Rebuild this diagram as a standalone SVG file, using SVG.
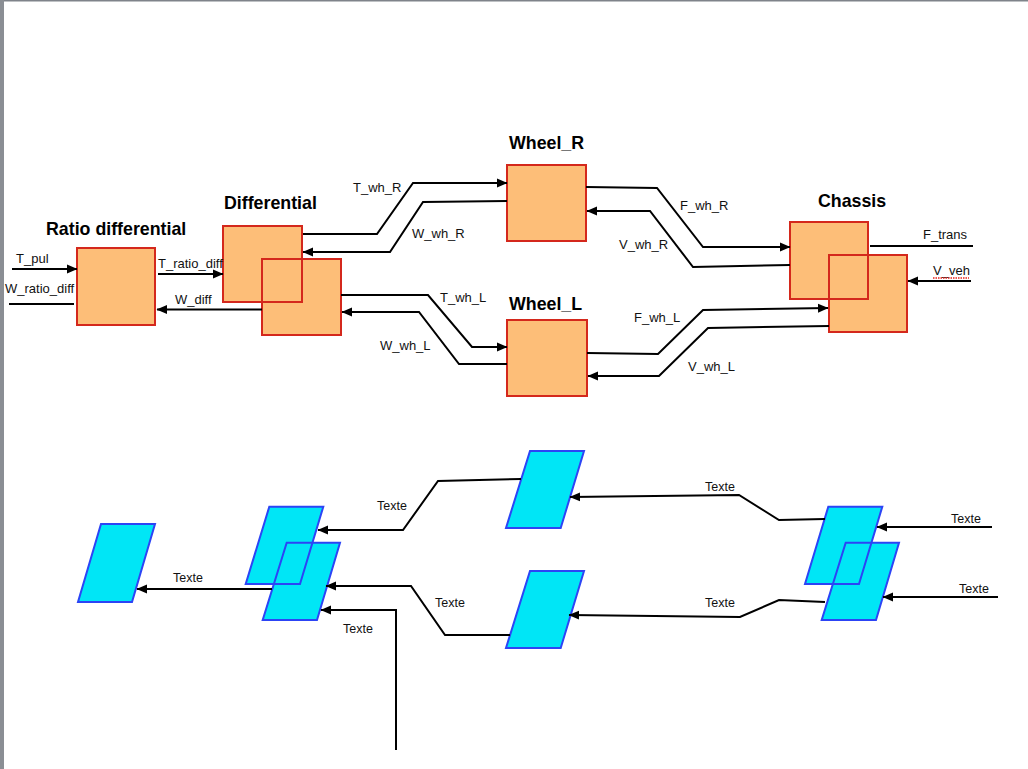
<svg xmlns="http://www.w3.org/2000/svg" width="1028" height="769" viewBox="0 0 1028 769">
<defs>
<style>
.blk{fill:#fdbe78;stroke:#d4281c;stroke-width:2}
.blkf{fill:#fdbe78;stroke:none}
.blks{fill:none;stroke:#d4281c;stroke-width:2}
.par{fill:#00e6f6;stroke:none}
.pars{fill:none;stroke:#2c44f5;stroke-width:2;stroke-linejoin:miter}
.title{font-family:"Liberation Sans",Arial,sans-serif;font-weight:bold;font-size:17.8px;fill:#000}
.lbl{font-family:"Liberation Sans",Arial,sans-serif;font-size:13px;fill:#111}
.lbl2{font-family:"Liberation Sans",Arial,sans-serif;font-size:12.5px;fill:#111}
.c{fill:none;stroke:#000;stroke-width:2;stroke-linejoin:miter}
.a{marker-end:url(#ah)}
</style>
<marker id="ah" markerUnits="userSpaceOnUse" markerWidth="11" markerHeight="10" viewBox="0 0 11 10" refX="10" refY="5" orient="auto">
<path d="M0,0.5 L10.5,5 L0,9.5 z" fill="#000"/>
</marker>
</defs>
<rect x="0" y="0" width="1028" height="769" fill="#fff"/>
<rect x="0" y="0" width="1028" height="1.5" fill="#7f838a"/>
<rect x="0" y="0" width="4" height="769" fill="#8a8e94"/>

<g id="ratio_differential">
<rect class="blk" x="77" y="248" width="78" height="77"/>
<text class="title" x="46" y="235">Ratio differential</text>
</g>
<g id="differential">
<rect class="blkf" x="223" y="226" width="79" height="76"/>
<rect class="blkf" x="262" y="259" width="79" height="76"/>
<rect class="blks" x="223" y="226" width="79" height="76"/>
<rect class="blks" x="262" y="259" width="79" height="76"/>
<text class="title" x="224" y="209">Differential</text>
</g>
<g id="wheel_r">
<rect class="blk" x="507" y="165" width="79" height="76"/>
<text class="title" x="509" y="149">Wheel_R</text>
</g>
<g id="wheel_l">
<rect class="blk" x="507" y="320" width="80" height="76"/>
<text class="title" x="509" y="310">Wheel_L</text>
</g>
<g id="chassis">
<rect class="blkf" x="790" y="222" width="78" height="77"/>
<rect class="blkf" x="829" y="255" width="78" height="77"/>
<rect class="blks" x="790" y="222" width="78" height="77"/>
<rect class="blks" x="829" y="255" width="78" height="77"/>
<text class="title" x="818" y="207">Chassis</text>
</g>

<g id="p1">
<polygon class="par" points="101,524 155,524 132,602 78,602"/>
<polygon class="pars" points="101,524 155,524 132,602 78,602"/>
</g>
<g id="p2p3">
<polygon class="par" points="269.3,506.7 323.3,506.7 300,584 245.7,584"/>
<polygon class="par" points="286.7,542.7 340,542.7 317,620 262.7,620"/>
<polygon class="pars" points="269.3,506.7 323.3,506.7 300,584 245.7,584"/>
<polygon class="pars" points="286.7,542.7 340,542.7 317,620 262.7,620"/>
</g>
<g id="p4">
<polygon class="par" points="530,451 584,451 560.7,528 506,528"/>
<polygon class="pars" points="530,451 584,451 560.7,528 506,528"/>
</g>
<g id="p5">
<polygon class="par" points="530,571 584,571 560.7,648 506,648"/>
<polygon class="pars" points="530,571 584,571 560.7,648 506,648"/>
</g>
<g id="p6p7">
<polygon class="par" points="828.3,506.7 882.3,506.7 859,584 805,584"/>
<polygon class="par" points="845.7,542.7 899,542.7 876,620 821.7,620"/>
<polygon class="pars" points="828.3,506.7 882.3,506.7 859,584 805,584"/>
<polygon class="pars" points="845.7,542.7 899,542.7 876,620 821.7,620"/>
</g>

<g id="connectors">
<path class="c a" d="M12,269 L77,269"/>
<path class="c" d="M9,304 L74,304"/>
<path class="c a" d="M158,274 L223,274"/>
<path class="c a" d="M262,309.5 L157,309.5"/>
<path class="c a" d="M303,234 L377,234 L413,183 L507,183"/>
<path class="c a" d="M507,201 L423,202 L390,252 L303,252"/>
<path class="c a" d="M341,295 L428,295 L472,347 L507,347"/>
<path class="c a" d="M507,364 L459,364 L419,312 L342,312"/>
<path class="c a" d="M586,187 L657,188 L703,247 L790,247"/>
<path class="c a" d="M790,265 L693,267 L650,211 L587,211"/>
<path class="c a" d="M587,353 L658,354 L703,310 L828,308"/>
<path class="c a" d="M829,326 L708,328 L659,376 L588,376"/>
<path class="c" d="M870,246 L973,246"/>
<path class="c a" d="M971,281 L908,281"/>

<path class="c a" d="M272,589 L137,589"/>
<path class="c a" d="M521,479 L438,481 L403,530 L318,530"/>
<path class="c a" d="M510,635 L445,635 L411,586 L326,586"/>
<path class="c a" d="M396,750 L396,610 L321,610"/>
<path class="c a" d="M825,519 L779,520 L739,495 L570,497"/>
<path class="c a" d="M825,602 L779,600 L740,617 L569,615"/>
<path class="c a" d="M992,527 L877,527"/>
<path class="c a" d="M998,597 L883,597"/>
</g>

<g id="labels">
<text class="lbl" x="16" y="263">T_pul</text>
<text class="lbl" x="5" y="293">W_ratio_diff</text>
<text class="lbl" x="158" y="268">T_ratio_diff</text>
<text class="lbl" x="175" y="304">W_diff</text>
<text class="lbl" x="353" y="192">T_wh_R</text>
<text class="lbl" x="412" y="238">W_wh_R</text>
<text class="lbl" x="440" y="302">T_wh_L</text>
<text class="lbl" x="380" y="350">W_wh_L</text>
<text class="lbl" x="680" y="210">F_wh_R</text>
<text class="lbl" x="619" y="249">V_wh_R</text>
<text class="lbl" x="634" y="322">F_wh_L</text>
<text class="lbl" x="688" y="371">V_wh_L</text>
<text class="lbl" x="923" y="239">F_trans</text>
<text class="lbl" x="933" y="275">V_veh</text>
<path d="M933,278 L969,278" stroke="#e8221a" stroke-width="1.5" stroke-dasharray="1.5,1" fill="none"/>
<text class="lbl2" x="173" y="582">Texte</text>
<text class="lbl2" x="377" y="510">Texte</text>
<text class="lbl2" x="435" y="607">Texte</text>
<text class="lbl2" x="343" y="633">Texte</text>
<text class="lbl2" x="705" y="491">Texte</text>
<text class="lbl2" x="705" y="607">Texte</text>
<text class="lbl2" x="951" y="523">Texte</text>
<text class="lbl2" x="959" y="593">Texte</text>
</g>
</svg>
